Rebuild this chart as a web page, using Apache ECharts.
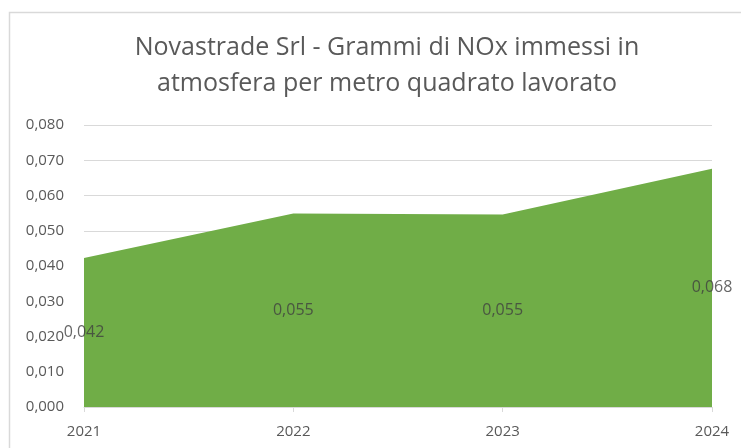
<!DOCTYPE html>
<html>
<head>
<meta charset="utf-8">
<script src="https://cdn.jsdelivr.net/npm/echarts@6/dist/echarts.min.js"></script>
<style>
  html, body { margin: 0; padding: 0; background: #fff; }
  #chart { width: 741px; height: 448px; }
</style>
</head>
<body>
<div id="chart"></div>
<script>
// dati
const years = ['2021', '2022', '2023', '2024']
const noxValues = [0.0423, 0.0549, 0.0546, 0.0676]
const yTicks = [0, 0.01, 0.02, 0.03, 0.04, 0.05, 0.06, 0.07, 0.08]

const fmt = v => v.toFixed(3).replace('.', ',')
const font = '"Open Sans", "Noto Sans", sans-serif'

let chart = echarts.init(document.getElementById('chart'))
chart.setOption({
  animation: false,
  title: {
    text: 'Novastrade Srl - Grammi di NOx immessi in\natmosfera per metro quadrato lavorato',
    left: 382,
    textAlign: 'center',
    top: 25,
    textStyle: { fontFamily: font, fontWeight: 'normal', fontSize: 25, color: '#595959', lineHeight: 36 }
  },
  graphic: [{
    type: 'rect',
    shape: { x: 9.5, y: 12.5, width: 800, height: 500 },
    style: { fill: 'none', stroke: '#d9d9d9', lineWidth: 1.5 },
    silent: true
  }],
  grid: { left: 84, right: 29, top: 125, bottom: 41 },
  xAxis: {
    type: 'category',
    data: years,
    boundaryGap: false,
    axisLine: { lineStyle: { color: '#d9d9d9' } },
    axisTick: { show: true, length: 5, lineStyle: { color: '#d9d9d9' } },
    axisLabel: { color: '#595959', fontFamily: font, fontSize: 15, margin: 17 }
  },
  yAxis: {
    type: 'value',
    min: yTicks[0],
    max: yTicks[yTicks.length - 1],
    interval: 0.01,
    axisLine: { show: false },
    axisTick: { show: false },
    splitLine: { lineStyle: { color: '#d9d9d9', width: 1 } },
    axisLabel: { color: '#595959', fontFamily: font, fontSize: 15, margin: 20, formatter: fmt }
  },
  series: [
    {
      type: 'line',
      data: noxValues,
      symbol: 'none',
      lineStyle: { width: 0 },
      areaStyle: { color: '#70ad47', opacity: 1 },
      z: 2
    },
    {
      // etichette al centro dell'area, come in Excel
      type: 'scatter',
      data: years.map((y, i) => [y, noxValues[i] / 2]),
      symbolSize: 0,
      label: {
        show: true,
        position: 'inside',
        color: '#404040',
        fontFamily: font,
        fontSize: 16,
        formatter: p => fmt(noxValues[p.dataIndex])
      },
      z: 5
    }
  ]
})
</script>
</body>
</html>
